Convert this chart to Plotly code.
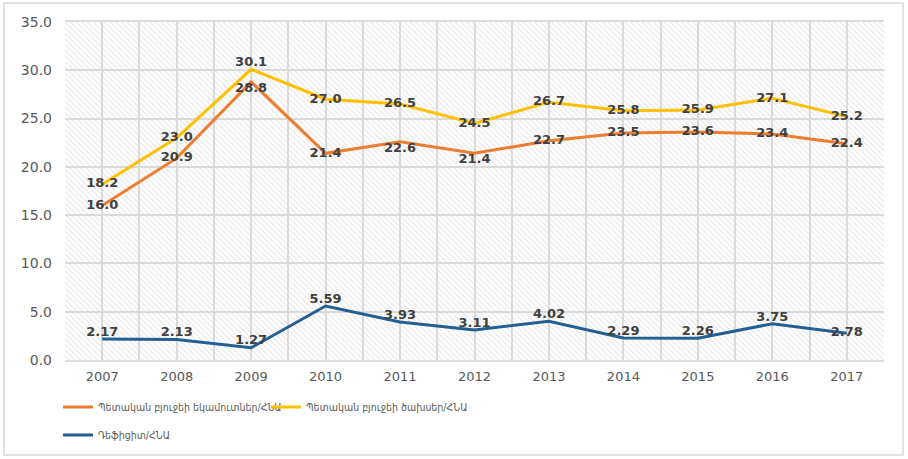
import plotly.graph_objects as go

years = [2007, 2008, 2009, 2010, 2011, 2012, 2013, 2014, 2015, 2016, 2017]
revenues = [16.0, 20.9, 28.8, 21.4, 22.6, 21.4, 22.7, 23.5, 23.6, 23.4, 22.4]
expenditures = [18.2, 23.0, 30.1, 27.0, 26.5, 24.5, 26.7, 25.8, 25.9, 27.1, 25.2]
deficit = [2.17, 2.13, 1.27, 5.59, 3.93, 3.11, 4.02, 2.29, 2.26, 3.75, 2.78]

name_rev = "Պետական բյուջեի եկամուտներ/ՀՆԱ"
name_exp = "Պետական բյուջեի ծախսեր/ՀՆԱ"
name_def = "Դեֆիցիտ/ՀՆԱ"

rev_pos = ["middle center", "middle center", "bottom center", "middle center", "bottom center",
           "bottom center", "middle center", "middle center", "middle center", "middle center",
           "middle center"]
exp_pos = ["middle center", "middle center", "top center"] + ["middle center"] * 8
def_pos = ["top center"] * 10 + ["middle center"]

FONT = "DejaVu Sans"
W, H = 908, 459
ML, MR, MT, MB = 65, 24, 22, 99
PW, PH = W - ML - MR, H - MT - MB

fig = go.Figure()

# hatched plot-area background (decorative)
fig.add_trace(go.Bar(
    x=[0.5], y=[1], width=[1], xaxis="x", yaxis="y",
    marker=dict(color="rgba(0,0,0,0)", line=dict(width=0),
                pattern=dict(shape="\\", fgcolor="#d0d0d0", bgcolor="rgba(0,0,0,0)",
                             size=4, solidity=0.3)),
    hoverinfo="skip", showlegend=False,
))

label_font = dict(family=FONT, size=13, color="#404040")

fig.add_trace(go.Scatter(
    x=years, y=revenues, name=name_rev, mode="lines+text", xaxis="x2", yaxis="y2",
    line=dict(color="#ED7D31", width=3), text=[f"{v:.1f}" for v in revenues],
    textposition=rev_pos, textfont=label_font, legend="legend",
))
fig.add_trace(go.Scatter(
    x=years, y=expenditures, name=name_exp, mode="lines+text", xaxis="x2", yaxis="y2",
    line=dict(color="#FFC000", width=3), text=[f"{v:.1f}" for v in expenditures],
    textposition=exp_pos, textfont=label_font, legend="legend3",
))
fig.add_trace(go.Scatter(
    x=years, y=deficit, name=name_def, mode="lines+text", xaxis="x2", yaxis="y2",
    line=dict(color="#255E91", width=3), text=[f"{v:.2f}" for v in deficit],
    textposition=def_pos, textfont=label_font, legend="legend2",
))

for tr in fig.data[1:]:
    tr.texttemplate = "<b>%{text}</b>"

grid = "#dcdcdc"
leg_font = dict(family="DejaVu Sans Condensed, DejaVu Sans", size=10.5, color="#595959")
row1_y = (H - MB - 407) / PH
row2_y = (H - MB - 435) / PH


def leg(xpx, ypaper):
    return dict(orientation="h", x=(xpx - ML) / PW, xanchor="left", y=ypaper, yanchor="middle",
                font=leg_font, bgcolor="rgba(0,0,0,0)", itemwidth=30)


fig.update_layout(
    width=W, height=H,
    margin=dict(l=ML, r=MR, t=MT, b=MB, autoexpand=False),
    paper_bgcolor="white", plot_bgcolor="white",
    font=dict(family=FONT, color="#595959"),
    bargap=0,
    xaxis=dict(range=[0, 1], visible=False, fixedrange=True),
    yaxis=dict(range=[0, 1], visible=False, fixedrange=True),
    xaxis2=dict(overlaying="x", range=[years[0] - 0.5, years[-1] + 0.5], tickmode="array",
                tickvals=years, ticktext=[str(y) for y in years],
                showgrid=True, gridcolor=grid, gridwidth=1.5,
                minor=dict(tick0=years[0] - 0.5, dtick=1, showgrid=True, gridcolor=grid, gridwidth=1.5),
                showline=True, linecolor=grid, linewidth=1.5, mirror=True,
                ticks="", tickfont=dict(size=13, color="#595959"), zeroline=False,
                ticklabelstandoff=4),
    yaxis2=dict(overlaying="y", range=[0, 35], dtick=5, tickformat=".1f",
                showgrid=True, gridcolor=grid, gridwidth=1.5, zeroline=False,
                ticks="", tickfont=dict(size=14, color="#595959"), ticklabelstandoff=12),
    legend=leg(58, row1_y),
    legend3=leg(266, row1_y),
    legend2=leg(58, row2_y),
    shapes=[dict(type="rect", xref="paper", yref="paper",
                 x0=(4 - ML) / PW, x1=(W - 5 - ML) / PW,
                 y0=(H - MB - (H - 4)) / PH, y1=(H - MB - 3) / PH,
                 line=dict(color="#d9d9d9", width=1.5), fillcolor="rgba(0,0,0,0)", layer="below")],
)

fig.write_html("out.html", config={"displayModeBar": False},
               post_script="document.body.style.margin='0';document.body.style.overflow='hidden';")
